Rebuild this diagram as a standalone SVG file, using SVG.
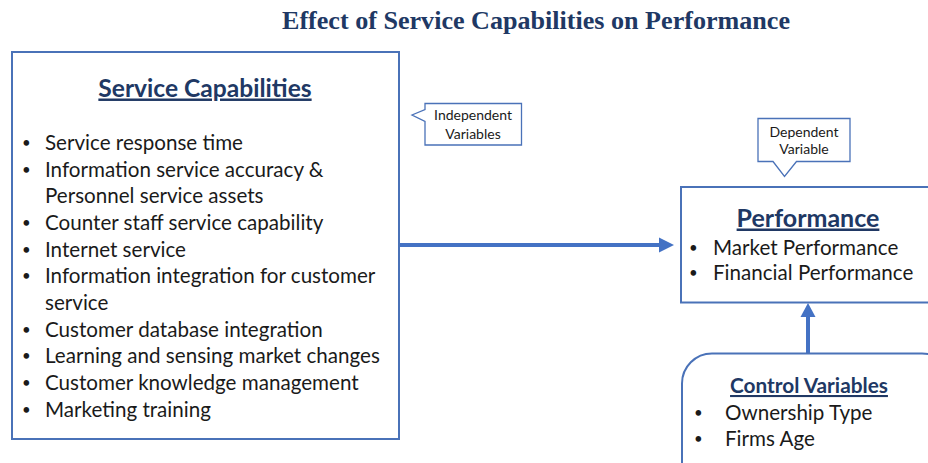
<svg xmlns="http://www.w3.org/2000/svg" width="928" height="463" viewBox="0 0 928 463">
  <style>
    .title { font-family: "Liberation Serif", "Times New Roman", serif; font-weight: bold; font-size: 26px; fill: #203864; }
    .head { font-family: Lato, "Open Sans", sans-serif; font-weight: bold; fill: #203864; text-decoration: underline; }
    .item { font-family: Lato, "Open Sans", sans-serif; font-size: 20.6px; fill: #1a1a1a; }
    .bul { font-family: Lato, "Open Sans", sans-serif; font-size: 15px; fill: #1a1a1a; }
    .note { font-family: Lato, "Open Sans", sans-serif; font-size: 14px; fill: #1a1a1a; text-anchor: middle; }
    .box { fill: #ffffff; stroke: #4a72b8; stroke-width: 2; }
    .callout { fill: #ffffff; stroke: #4a72b8; stroke-width: 1.3; }
    .conn { stroke: #4472c4; stroke-width: 4; fill: none; }
    .tip { fill: #4472c4; }
  </style>

  <rect width="928" height="463" fill="#ffffff"/>

  <text class="title" x="282" y="29" textLength="508" lengthAdjust="spacingAndGlyphs">Effect of Service Capabilities on Performance</text>

  <!-- connectors -->
  <g id="connectors">
    <line class="conn" x1="399" y1="245" x2="661" y2="245"/>
    <polygon class="tip" points="659,237.5 674,245 659,252.5"/>
    <line class="conn" x1="808" y1="354" x2="808" y2="315"/>
    <polygon class="tip" points="800.5,317 808,303 815.5,317"/>
  </g>

  <g id="service-capabilities">
    <rect class="box" x="12" y="52" width="387" height="387"/>
    <text class="head" x="205" y="96.5" font-size="24.6" text-anchor="middle">Service Capabilities</text>
    <g class="bul" transform="translate(0,1.5)">
      <text x="22" y="146">•</text>
      <text x="22" y="173">•</text>
      <text x="22" y="226">•</text>
      <text x="22" y="253">•</text>
      <text x="22" y="279.5">•</text>
      <text x="22" y="333">•</text>
      <text x="22" y="359.5">•</text>
      <text x="22" y="386">•</text>
      <text x="22" y="413">•</text>
    </g>
    <g class="item" transform="translate(0,1.5)">
      <text x="45" y="148">Service response time</text>
      <text x="45" y="175">Information service accuracy &amp;</text>
      <text x="45" y="201.5">Personnel service assets</text>
      <text x="45" y="228">Counter staff service capability</text>
      <text x="45" y="255">Internet service</text>
      <text x="45" y="281.5">Information integration for customer</text>
      <text x="45" y="308">service</text>
      <text x="45" y="335">Customer database integration</text>
      <text x="45" y="361.5">Learning and sensing market changes</text>
      <text x="45" y="388">Customer knowledge management</text>
      <text x="45" y="415">Marketing training</text>
    </g>
  </g>

  <g id="independent-note">
    <path class="callout" d="M425,103.5 H521.5 V145 H425 V121.5 L412,115 L425,109.5 Z"/>
    <text class="note" x="473" y="120">Independent</text>
    <text class="note" x="473" y="138.5">Variables</text>
  </g>

  <g id="dependent-note">
    <path class="callout" d="M758,118.5 H850 V161.5 H796.5 L784.5,176.5 L773,161.5 H758 Z"/>
    <text class="note" x="804" y="136.5">Dependent</text>
    <text class="note" x="804" y="154">Variable</text>
  </g>

  <g id="performance">
    <rect class="box" x="681" y="187" width="260" height="115.5"/>
    <text class="head" x="808" y="226.5" font-size="25" text-anchor="middle">Performance</text>
    <g class="bul">
      <text x="689" y="253">•</text>
      <text x="689" y="278">•</text>
    </g>
    <g class="item">
      <text x="713" y="255">Market Performance</text>
      <text x="713" y="280">Financial Performance</text>
    </g>
  </g>

  <g id="control-variables">
    <rect class="box" x="682" y="353.5" width="270" height="140" rx="30" ry="30"/>
    <text class="head" x="809" y="393" font-size="20.8" text-anchor="middle">Control Variables</text>
    <g class="bul">
      <text x="694" y="418">•</text>
      <text x="694" y="443.5">•</text>
    </g>
    <g class="item">
      <text x="725" y="420">Ownership Type</text>
      <text x="725" y="445.5">Firms Age</text>
    </g>
  </g>
</svg>
